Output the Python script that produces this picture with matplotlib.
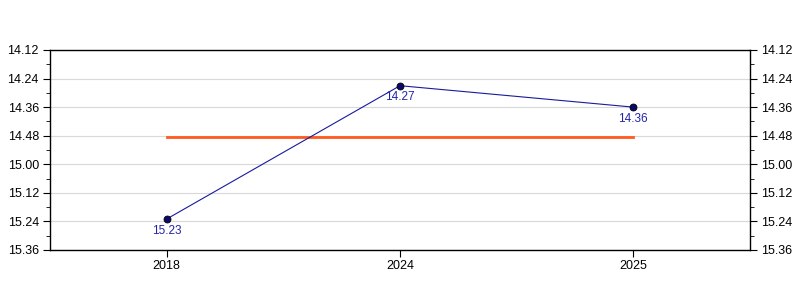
import matplotlib
matplotlib.use('Agg')
import matplotlib.pyplot as plt
from matplotlib.ticker import MultipleLocator, FuncFormatter

plt.rcParams['font.family'] = ['Liberation Sans', 'DejaVu Sans']

# Race times per year, written as minutes.seconds
years = ['2018', '2024', '2025']
times = ['15.23', '14.27', '14.36']


def to_seconds(t):
    m, s = t.split('.')
    return int(m) * 60 + int(s)


def fmt_time(v, pos=None):
    v = int(round(v))
    return '%d.%02d' % (v // 60, v % 60)


secs = [to_seconds(t) for t in times]
avg = sum(secs) / len(secs)
x = list(range(len(years)))

fig = plt.figure(figsize=(8, 3), dpi=100)
ax = fig.add_axes([0.0625, 0.1667, 0.875, 0.6667])

ax.plot([x[0], x[-1]], [avg, avg], color='#ff5a1f', lw=2, zorder=2)
ax.plot(x, secs, color='#1a1a9e', lw=0.8, marker='o', markersize=5,
        markerfacecolor='#0a0a6e', markeredgecolor='black', markeredgewidth=0.6, zorder=3)
for xi, s, t in zip(x, secs, times):
    ax.annotate(t, (xi, s), xytext=(0, -4), textcoords='offset points',
                ha='center', va='top', fontsize=8.5, color='#2424a8')

ax.set_xlim(-0.5, len(years) - 0.5)
ax.set_xticks(x)
ax.set_xticklabels(years)
ax.set_ylim(to_seconds('15.36'), to_seconds('14.12'))
ax.yaxis.set_major_locator(MultipleLocator(12))
ax.yaxis.set_minor_locator(MultipleLocator(6))
ax.yaxis.set_major_formatter(FuncFormatter(fmt_time))
ax.tick_params(axis='y', which='both', left=True, right=True, labelleft=True, labelright=True,
               labelsize=9, direction='out')
ax.tick_params(axis='y', which='major', length=5, pad=3)
ax.tick_params(axis='y', which='minor', length=3)
ax.tick_params(axis='x', labelsize=9, length=5, pad=2)
ax.grid(axis='y', which='major', color='#d8d8d8', lw=0.8)
ax.set_axisbelow(True)
for sp in ax.spines.values():
    sp.set_linewidth(1)

fig.savefig('out.png', dpi=100)
